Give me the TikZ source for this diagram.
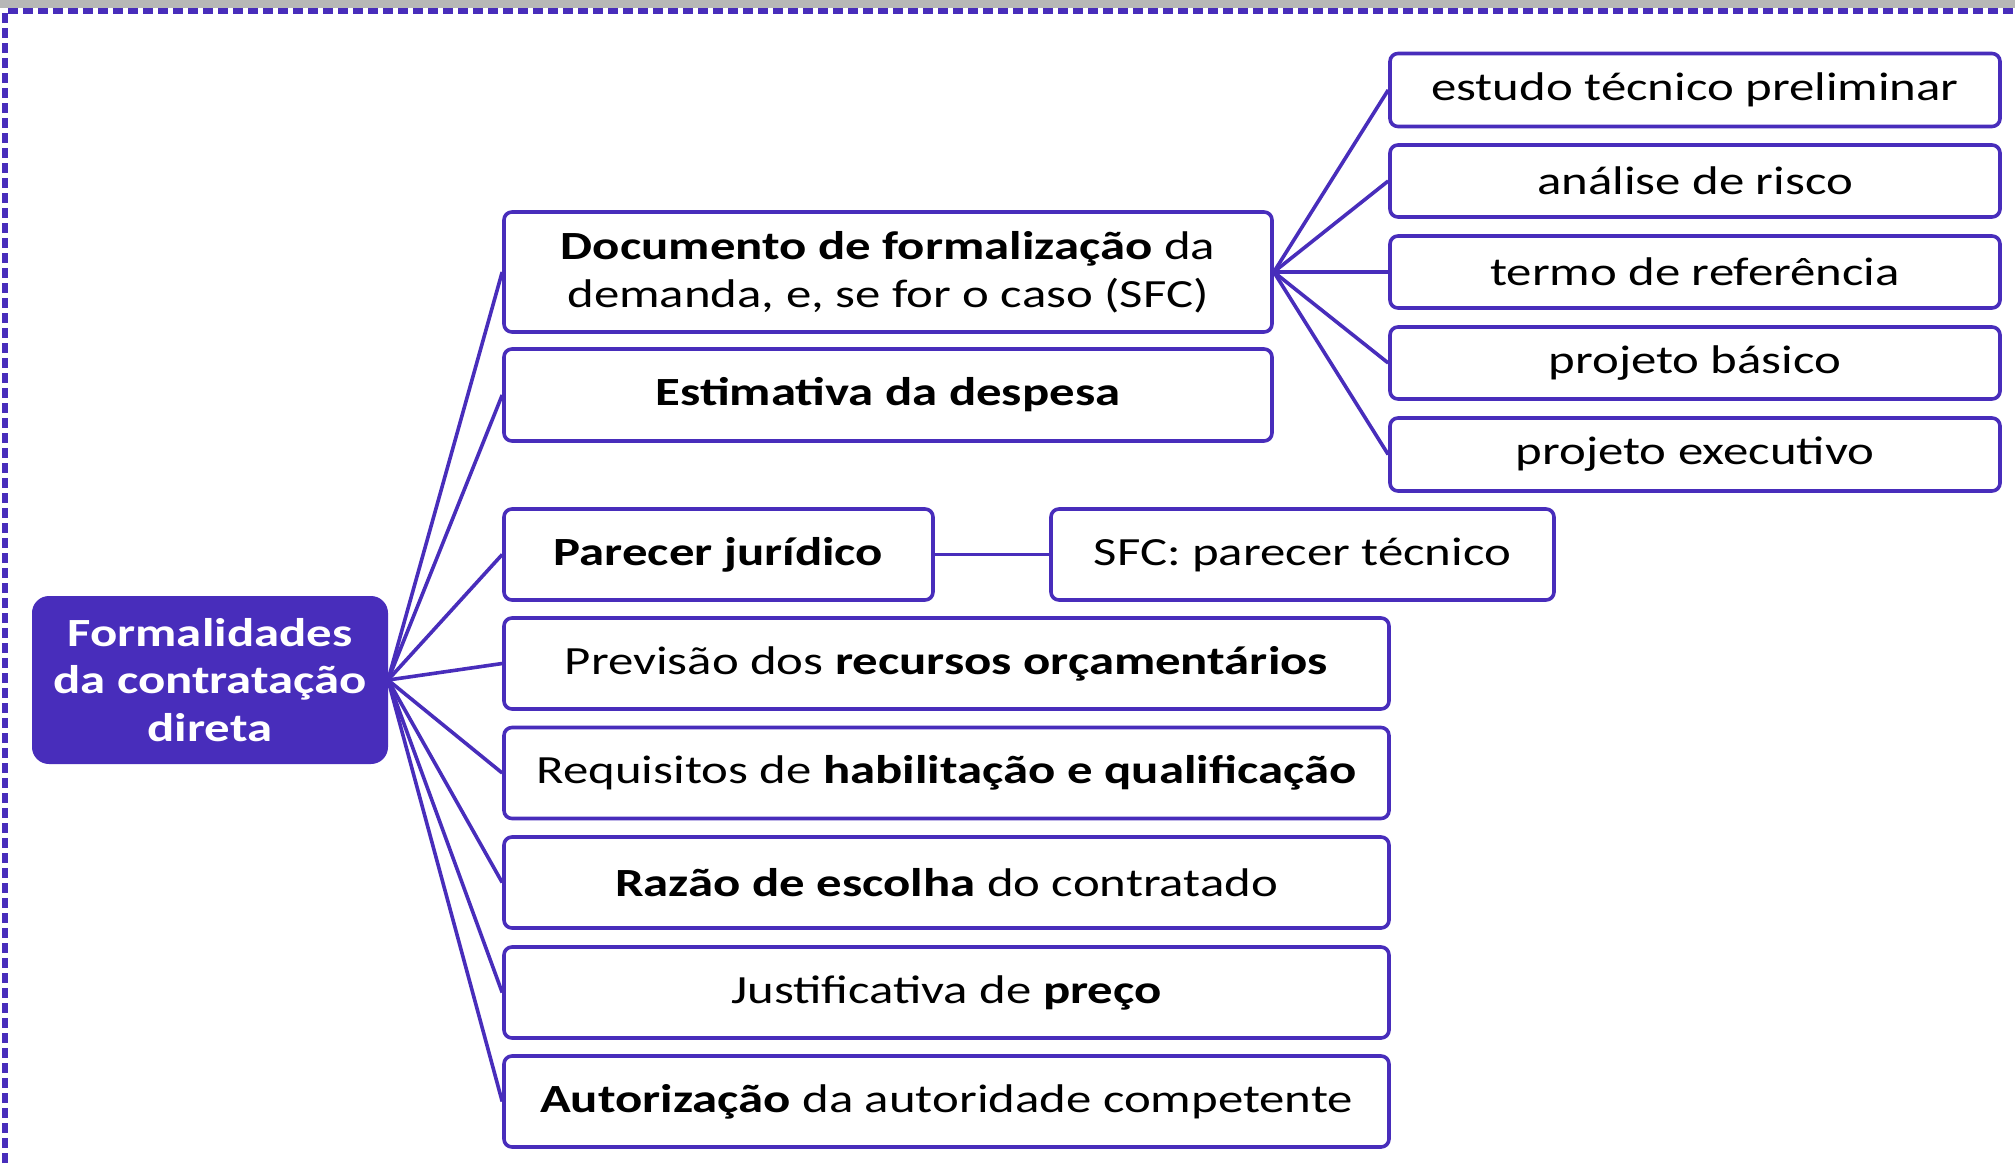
\documentclass[tikz,border=0pt]{standalone}
\usepackage{fontspec}
\setmainfont{Carlito}[FakeStretch=1.27]
\definecolor{mv}{RGB}{72,45,187}
\definecolor{topgray}{RGB}{183,183,183}
\begin{document}
\begin{tikzpicture}[x=0.5pt,y=-0.5pt,
  box/.style={draw=mv, line width=1.8pt, rounded corners=4pt, fill=white,
    inner sep=0pt, align=center, text=black,
    font=\fontsize{20}{23.75}\selectfont},
  rootbox/.style={fill=mv, draw=mv, line width=1pt, rounded corners=8pt,
    inner sep=0pt, align=center, text=white,
    font=\fontsize{20}{23.75}\selectfont\bfseries},
  conn/.style={draw=mv, line width=1.8pt},
  frame/.style={draw=mv, line width=3pt, dash pattern=on 5pt off 2.5pt}]
\useasboundingbox (0,0) rectangle (2015,1163);
\fill[white] (0,0) rectangle (2015,1163);
\fill[topgray] (0,0) rectangle (2015,7.5);
\draw[frame] (5,1163) -- (5,11) -- (2015,11);

\node[rootbox, minimum width=177pt, minimum height=83pt] (root) at (210,680)
  {Formalidades\\da contratação\\direta};

\node[box, minimum width=384pt, minimum height=60pt] (doc) at (888,272)
  {\textbf{Documento de formalização} da\\demanda, e, se for o caso (SFC)};
\node[box, minimum width=384pt, minimum height=46pt] (est) at (888,395)
  {\textbf{Estimativa da despesa}};
\node[box, minimum width=214.5pt, minimum height=45.5pt] (par) at (718.5,554.5)
  {\textbf{Parecer jurídico}};
\node[box, minimum width=251.5pt, minimum height=45.5pt] (sfc) at (1302.5,554.5)
  {SFC: parecer técnico};
\node[box, minimum width=442.5pt, minimum height=45.5pt] (prev) at (946.5,663.5)
  {Previsão dos \textbf{recursos orçamentários}};
\node[box, minimum width=442.5pt, minimum height=45.5pt] (req) at (946.5,773)
  {Requisitos de \textbf{habilitação e qualificação}};
\node[box, minimum width=442.5pt, minimum height=45.5pt] (raz) at (946.5,882.5)
  {\textbf{Razão de escolha} do contratado};
\node[box, minimum width=442.5pt, minimum height=45.5pt] (jus) at (946.5,992.5)
  {Justificativa de \textbf{preço}};
\node[box, minimum width=442.5pt, minimum height=45.5pt] (aut) at (946.5,1101.5)
  {\textbf{Autorização} da autoridade competente};

\node[box, minimum width=305pt, minimum height=36.5pt] (etp) at (1695,90)
  {estudo técnico preliminar};
\node[box, minimum width=305pt, minimum height=36pt] (ris) at (1695,181)
  {análise de risco};
\node[box, minimum width=305pt, minimum height=36pt] (tr) at (1695,272)
  {termo de referência};
\node[box, minimum width=305pt, minimum height=36pt] (pb) at (1695,363)
  {projeto básico};
\node[box, minimum width=305pt, minimum height=36.5pt] (pe) at (1695,454.5)
  {projeto executivo};

\foreach \t in {doc,est,par,prev,req,raz,jus,aut}
  \draw[conn] (root.east) -- (\t.west);
\foreach \t in {etp,ris,tr,pb,pe}
  \draw[conn] (doc.east) -- (\t.west);
\draw[conn] (par.east) -- (sfc.west);
\end{tikzpicture}
\end{document}
